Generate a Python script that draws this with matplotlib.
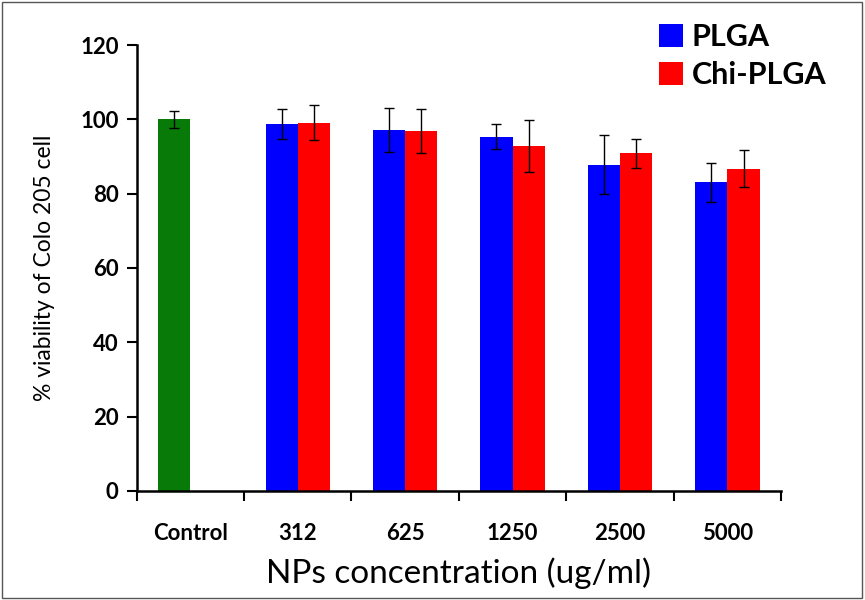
import numpy as np
import matplotlib
matplotlib.use('Agg')
from matplotlib import pyplot as plt
from matplotlib.patches import Rectangle

plt.rcParams['font.family'] = ['Lato', 'DejaVu Sans']

categories = ['Control', '312', '625', '1250', '2500', '5000']
control_value = 100.0
control_err = 2.3
plga = [98.7, 97.1, 95.3, 87.8, 83.0]
plga_err = [4.0, 6.0, 3.4, 7.9, 5.3]
chi_plga = [99.1, 96.8, 92.7, 90.8, 86.7]
chi_plga_err = [4.8, 6.0, 7.0, 4.0, 5.0]

fig = plt.figure(figsize=(8.65, 6), dpi=100)
ax = fig.add_axes([0.158, 0.182, 0.745, 0.743])

x = np.arange(len(categories))
w = 0.3
err_kw = dict(ecolor='black', elinewidth=1, capsize=3.5, capthick=1)

ax.bar(x[0] - w / 2, control_value, w, color='#087a08', yerr=control_err, error_kw=err_kw)
ax.bar(x[1:] - w / 2, plga, w, color='#0000ff', yerr=plga_err, error_kw=err_kw, label='PLGA')
ax.bar(x[1:] + w / 2, chi_plga, w, color='#ff0000', yerr=chi_plga_err, error_kw=err_kw, label='Chi-PLGA')

ax.set_xlim(-0.5, len(categories) - 0.5)
ax.set_ylim(0, 120)
ax.set_yticks(np.arange(0, 121, 20))
ax.set_yticklabels([str(v) for v in range(0, 121, 20)], fontsize=16, fontweight='bold')

# boundaries get the tick marks, centres get the labels
ax.set_xticks(np.arange(-0.5, len(categories), 1.0))
ax.set_xticklabels([])
ax.set_xticks(x, minor=True)
ax.set_xticklabels(categories, minor=True, fontsize=16, fontweight='bold')
ax.tick_params(axis='x', which='major', length=7, width=1.5, direction='out')
ax.tick_params(axis='x', which='minor', length=0, pad=23)
ax.tick_params(axis='y', length=7, width=1.5, direction='out', pad=6)

for s in ['top', 'right']:
    ax.spines[s].set_visible(False)
for s in ['left', 'bottom']:
    ax.spines[s].set_linewidth(1.8)

ax.set_xlabel('NPs concentration (ug/ml)', fontsize=24, labelpad=10)
ax.set_ylabel('% viability of Colo 205 cell', fontsize=16.5)
ax.yaxis.set_label_coords(-0.127, 0.5)

leg = ax.legend(loc='upper left', bbox_to_anchor=(0.73, 1.008), bbox_transform=fig.transFigure,
                frameon=False, prop={'size': 22, 'weight': 'bold'}, handlelength=0.78,
                handleheight=0.78, handletextpad=0.3, labelspacing=0.33)

fig.patches.append(Rectangle((0.002, 0.004), 0.995, 0.992, transform=fig.transFigure,
                             fill=False, edgecolor='#555555', linewidth=1))

fig.savefig('out.png', dpi=100)
